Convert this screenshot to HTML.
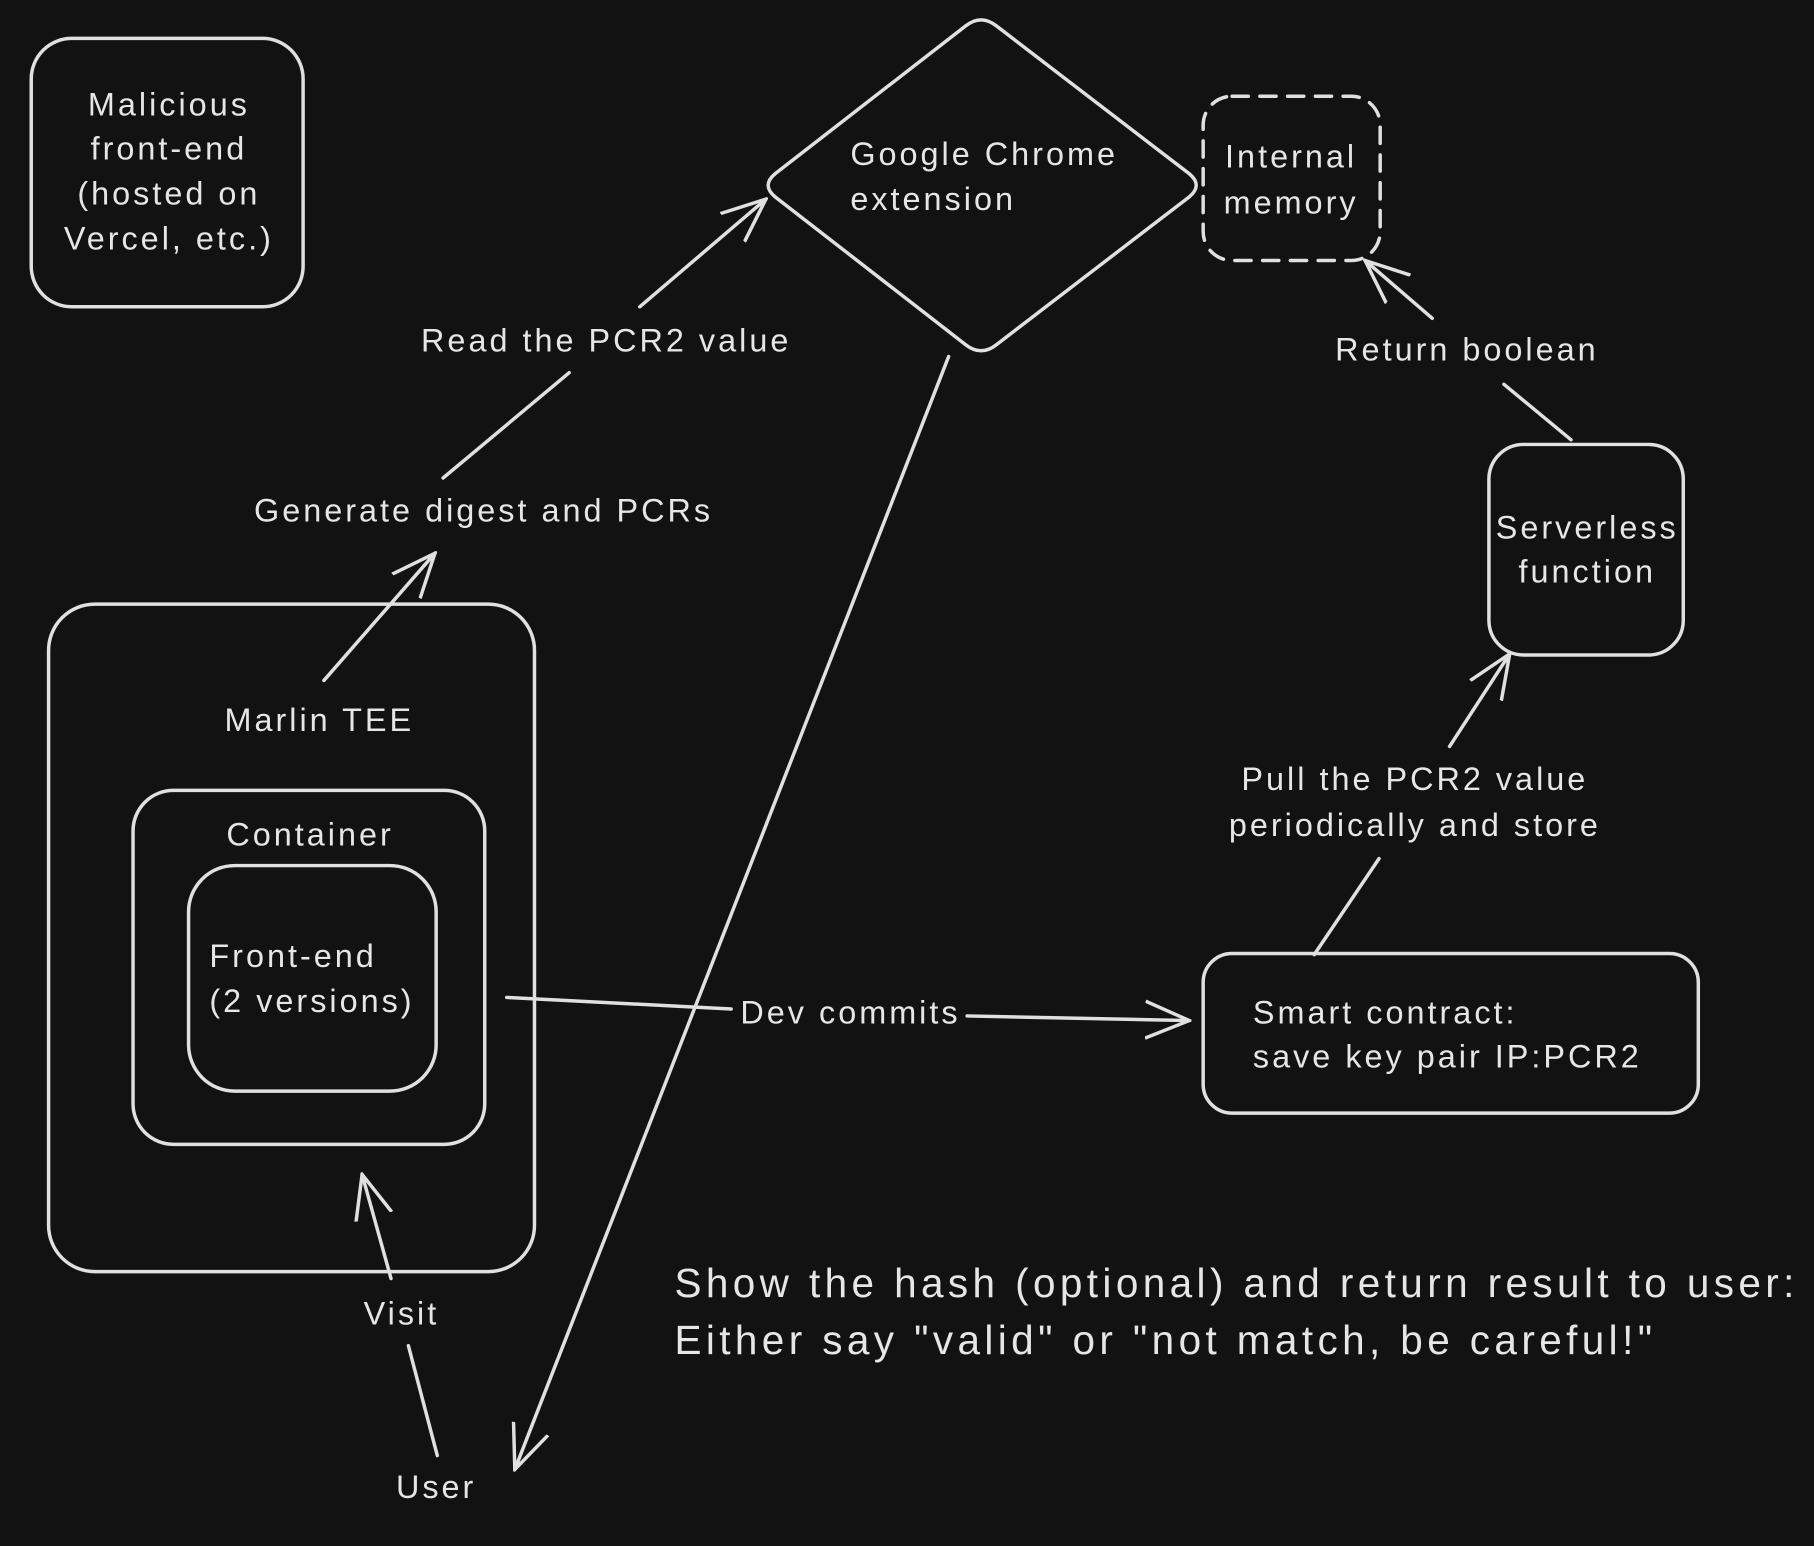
<!DOCTYPE html>
<html><head><style>
html,body{margin:0;padding:0;background:#121212;}
svg{display:block}
text{font-family:"Liberation Sans",sans-serif;fill:#e6e6e6;font-size:28px;dominant-baseline:central;letter-spacing:2.6px}
.c{text-anchor:middle}
</style></head><body>
<svg width="1814" height="1546" viewBox="0 0 1568 1336" xmlns="http://www.w3.org/2000/svg">
<defs>
<marker id="b" viewBox="0 0 40 40" refX="38" refY="20" markerWidth="40" markerHeight="40" markerUnits="userSpaceOnUse" orient="auto">
<path d="M0,4 L38,20 L0,36" fill="none" stroke="#e0e0e0" stroke-width="3"/>
</marker>
</defs>
<rect width="1568" height="1336" fill="#121212"/>
<g fill="none" stroke="#e0e0e0" stroke-width="3" stroke-linecap="round">
<rect x="27" y="33" width="235" height="232" rx="35"/>
<path d="M835,22 Q848,12 861,22 L1028,150 Q1040,160 1028,170 L861,298 Q848,308 835,298 L670,170 Q658,160 670,150 Z"/>
<rect x="1040" y="83" width="153" height="142" rx="25" stroke-dasharray="14 10"/>
<rect x="1287" y="384" width="168" height="182" rx="30"/>
<rect x="1040" y="824" width="428" height="138" rx="25"/>
<rect x="42" y="522" width="420" height="577" rx="40"/>
<rect x="115" y="683" width="304" height="306" rx="35"/>
<rect x="163" y="748" width="214" height="195" rx="40"/>
<line x1="1238" y1="275" x2="1180" y2="225" marker-end="url(#b)"/>
<line x1="1300" y1="332" x2="1358" y2="380"/>
<line x1="1253" y1="645" x2="1305" y2="565" marker-end="url(#b)"/>
<line x1="1192" y1="742" x2="1136" y2="825"/>
<line x1="438" y1="862" x2="632" y2="872"/>
<line x1="836" y1="878" x2="1028" y2="882" marker-end="url(#b)"/>
<line x1="280" y1="588" x2="376" y2="478" marker-end="url(#b)"/>
<line x1="383" y1="413" x2="492" y2="322"/>
<line x1="553" y1="265" x2="662" y2="172" marker-end="url(#b)"/>
<line x1="820" y1="308" x2="445" y2="1270" marker-end="url(#b)"/>
<line x1="338" y1="1105" x2="313" y2="1015" marker-end="url(#b)"/>
<line x1="353" y1="1163" x2="378" y2="1258"/>
</g>
<text class="c" x="146" y="90">Malicious</text>
<text class="c" x="146" y="128">front-end</text>
<text class="c" x="146" y="167">(hosted on</text>
<text class="c" x="146" y="206">Vercel, etc.)</text>
<text x="735" y="133">Google Chrome</text>
<text x="735" y="172">extension</text>
<text class="c" x="1116" y="135">Internal</text>
<text class="c" x="1116" y="175">memory</text>
<text class="c" x="1268" y="302">Return boolean</text>
<text class="c" x="1372" y="456">Serverless</text>
<text class="c" x="1372" y="494">function</text>
<text class="c" x="1223" y="673">Pull the PCR2 value</text>
<text class="c" x="1223" y="713">periodically and store</text>
<text x="1083" y="875">Smart contract:</text>
<text x="1083" y="913">save key pair IP:PCR2</text>
<text x="640" y="875">Dev commits</text>
<text class="c" x="276" y="622">Marlin TEE</text>
<text class="c" x="268" y="721">Container</text>
<text x="181" y="826">Front-end</text>
<text x="181" y="865">(2 versions)</text>
<text class="c" x="418" y="441">Generate digest and PCRs</text>
<text class="c" x="524" y="294">Read the PCR2 value</text>
<text class="c" x="347" y="1135">Visit</text>
<text class="c" x="377" y="1285">User</text>
<text x="583" y="1109" style="font-size:35px;letter-spacing:3.8px">Show the hash (optional) and return result to user:</text>
<text x="583" y="1158" style="font-size:35px;letter-spacing:3.8px">Either say "valid" or "not match, be careful!"</text>
</svg>
</body></html>
